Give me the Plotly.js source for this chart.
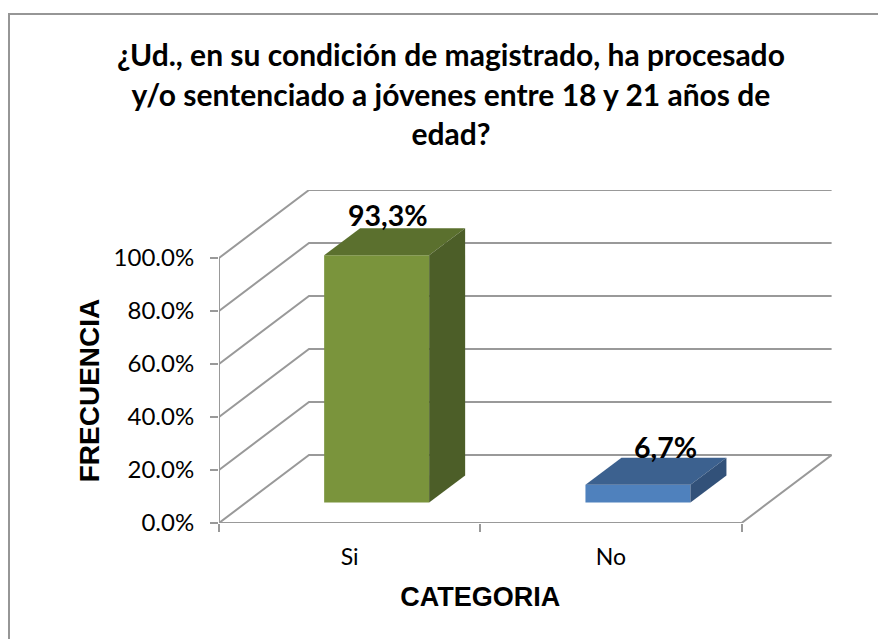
<!DOCTYPE html>
<html><head><meta charset="utf-8">
<script src="https://cdn.plot.ly/plotly-3.0.1.min.js"></script>
<style>html,body{margin:0;padding:0;background:#fff;overflow:hidden}#c{width:878px;height:639px}</style>
</head><body><div id="c"></div>
<script>
const categories = ['Si', 'No'];
const values = [93.3, 6.7];
const valueLabels = ['93,3%', '6,7%'];
const yTicks = [0, 20, 40, 60, 80, 100];
const yTickLabels = ['0.0%', '20.0%', '40.0%', '60.0%', '80.0%', '100.0%'];
const frontColors = ['#7A943C', '#4F81BD'];
const topColors = ['#5B702E', '#3C618F'];
const sideColors = ['#4C5E28', '#325179'];
const labelShiftsX = [38, 55];
const labelShiftsY = [61, 58];

const W = 878, H = 639;
const L = 219, R = 832, T = 190, B = 523;
const unitX = 261.3, unitY = 2.65;
const depthX = 90 / unitX, depthY = 68 / unitY;
const halfBar = 52.5 / unitX, d0 = 0.3, d1 = 0.7;
const gridColor = '#999999';
const P = (c, v, d) => [c + d * depthX, v + d * depthY];

const traces = [];
function line(pts) {
  const x = [], y = [];
  pts.forEach(p => { if (p) { x.push(p[0]); y.push(p[1]); } else { x.push(null); y.push(null); } });
  traces.push({type:'scatter', mode:'lines', x, y, hoverinfo:'skip', showlegend:false,
    line:{color:gridColor, width:2}, connectgaps:false});
}
function face(pts, color) {
  traces.push({type:'scatter', mode:'lines', fill:'toself', fillcolor:color,
    x:pts.map(p=>p[0]), y:pts.map(p=>p[1]), line:{width:0, color:color},
    hoverinfo:'skip', showlegend:false});
}
const n = categories.length;
const grid = [];
yTicks.forEach(v => { grid.push(P(0,v,0), P(0,v,1), P(n,v,1), null); });
line(grid);
line([P(0,0,0), P(0,100,0), null, P(0,0,0), P(n,0,0), P(n,0,1)]);
values.forEach((v,i) => {
  const c = i + 0.5, a = c - halfBar, b = c + halfBar;
  face([P(a,0,d0), P(b,0,d0), P(b,v,d0), P(a,v,d0), P(a,0,d0)], frontColors[i]);
  face([P(a,v,d0), P(b,v,d0), P(b,v,d1), P(a,v,d1), P(a,v,d0)], topColors[i]);
  face([P(b,0,d0), P(b,0,d1), P(b,v,d1), P(b,v,d0), P(b,0,d0)], sideColors[i]);
});
// front-plane axes: they span only the front wall, so ticks and titles sit where the 3D box's front does
traces.push({type:'scatter', mode:'none', x:[0,n], y:[0,100], xaxis:'x2', yaxis:'y2', hoverinfo:'skip', showlegend:false});

const annotations = values.map((v,i) => ({
  xref:'x', yref:'y', x:i+0.5, y:v, text:'<b>'+valueLabels[i]+'</b>', showarrow:false,
  xshift:labelShiftsX[i], yshift:labelShiftsY[i], yanchor:'middle', xanchor:'center',
  font:{family:'Lato, sans-serif', size:28.5, color:'#000'}
}));

const titleLines = ['¿Ud., en su condición de magistrado, ha procesado',
  'y/o sentenciado a jóvenes entre 18 y 21 años de', 'edad?'];
const xr = [0, (R-L)/unitX], yr = [0, (B-T)/unitY];
const frontW = (n*unitX)/(R-L), frontH = (100*unitY)/(B-T);
const layout = {
  width:W, height:H, paper_bgcolor:'#fff', plot_bgcolor:'rgba(0,0,0,0)',
  margin:{l:L, r:W-R, t:T, b:H-B, pad:0}, showlegend:false,
  title:{text:titleLines.map(s=>'<span style="font-size:30px"><b>'+s+'</b></span>').join('<br>'),
    font:{family:'Lato, sans-serif', size:30.5, color:'#000'},
    x:451/W, xanchor:'center', y:1-66/H, yanchor:'top', yref:'container'},
  xaxis:{range:xr, tickmode:'array', tickvals:categories.map((c,i)=>i+0.5), ticktext:categories,
    showgrid:false, zeroline:false, showline:false, ticks:'', fixedrange:true, ticklabelstandoff:18,
    tickfont:{family:'Lato, sans-serif', size:23, color:'#000'}, automargin:false},
  yaxis:{range:yr, showgrid:false, zeroline:false, showline:false, showticklabels:false, ticks:'', fixedrange:true, automargin:false},
  xaxis2:{anchor:'y2', domain:[0,frontW], range:[0,n], tickmode:'array', tickvals:[0,1,2], ticktext:['','',''],
    ticks:'outside', ticklen:8, tickwidth:2, tickcolor:gridColor, showgrid:false, zeroline:false, showline:false, fixedrange:true,
    title:{text:'<b>CATEGORIA</b>', font:{family:'Liberation Sans, Arial', size:27, color:'#000'}, standoff:53}, automargin:false},
  yaxis2:{anchor:'x2', domain:[0,frontH], range:[0,100], tickmode:'array', tickvals:yTicks, ticktext:yTickLabels,
    showgrid:false, zeroline:false, showline:false,
    ticks:'outside', ticklen:8, tickwidth:2, tickcolor:gridColor, fixedrange:true, ticklabelstandoff:11,
    tickfont:{family:'Lato, sans-serif', size:24, color:'#000'},
    title:{text:'<b>FRECUENCIA</b>', font:{family:'Liberation Sans, Arial', size:28, color:'#000'}, standoff:5}, automargin:false},
  annotations,
  shapes:[{type:'path', xref:'paper', yref:'paper', layer:'below',
    path:`M ${(9-L)/(R-L)} ${(B-H-2)/(B-T)} L ${(9-L)/(R-L)} ${(B-14)/(B-T)} L ${(W+2-L)/(R-L)} ${(B-14)/(B-T)}`,
    line:{color:'#969696', width:2}}]
};
Plotly.newPlot('c', traces, layout, {displayModeBar:false, staticPlot:true});
</script></body></html>
